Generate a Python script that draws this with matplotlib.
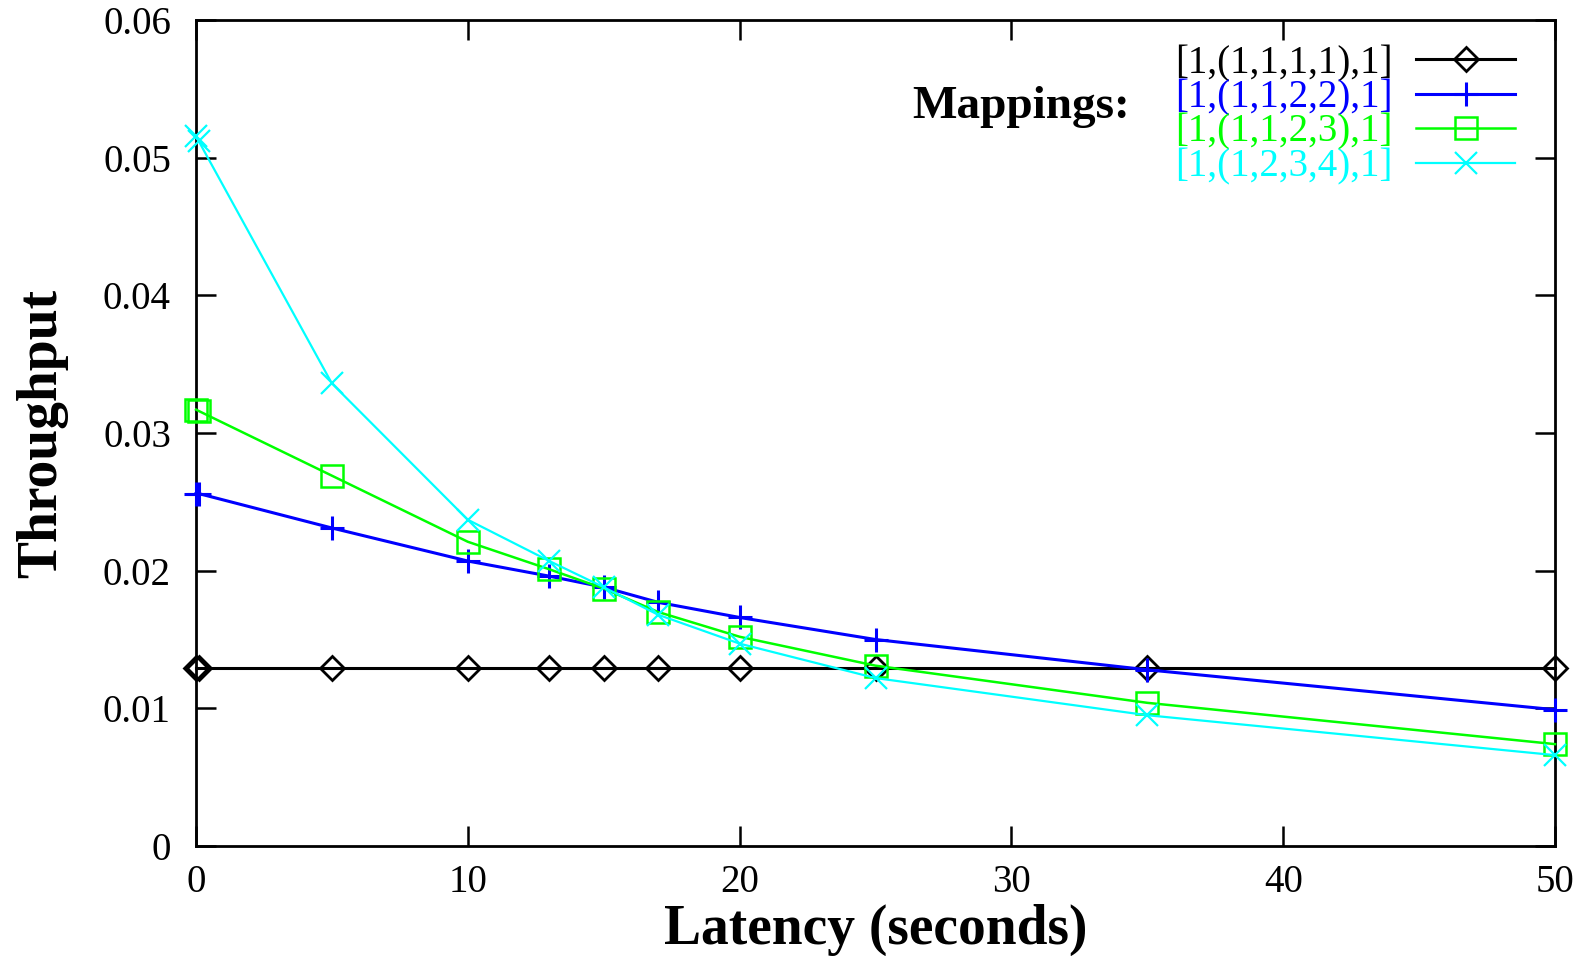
import matplotlib
matplotlib.use("Agg")
import matplotlib.pyplot as plt

# ---- data ----
latency = [0, 0.1, 5, 10, 13, 15, 17, 20, 25, 35, 50]
map_1111 = [0.0129, 0.0129, 0.0129, 0.0129, 0.0129, 0.0129, 0.0129, 0.0129, 0.0129, 0.0129, 0.0129]
map_1122 = [0.0256, 0.0256, 0.0231, 0.0207, 0.0196, 0.0188, 0.0177, 0.0166, 0.0150, 0.0128, 0.00990]
map_1123 = [0.0317, 0.0316, 0.0269, 0.0221, 0.0201, 0.0187, 0.0170, 0.0152, 0.0131, 0.0104, 0.0074]
map_1234 = [0.0516, 0.0512, 0.0336, 0.0237, 0.0207, 0.0188, 0.0168, 0.0147, 0.0122, 0.0095, 0.0066]
series_labels = ["[1,(1,1,1,1),1]", "[1,(1,1,2,2),1]", "[1,(1,1,2,3),1]", "[1,(1,2,3,4),1]"]
x_ticks = [0, 10, 20, 30, 40, 50]
x_tick_labels = ["0", "10", "20", "30", "40", "50"]
y_ticks = [0, 0.01, 0.02, 0.03, 0.04, 0.05, 0.06]
y_tick_labels = ["0", "0.01", "0.02", "0.03", "0.04", "0.05", "0.06"]

plt.rcParams['font.family'] = ['Liberation Serif', 'DejaVu Serif']

W, H = 1592, 956
fig = plt.figure(figsize=(W / 100, H / 100), dpi=100)
ax = fig.add_axes([196 / W, 1 - 846 / H, (1555 - 196) / W, (846 - 20) / H])

ax.plot(latency, map_1111, color='black', lw=2.2, marker='D', ms=12, mfc='none',
        mec='black', mew=2.0, label=series_labels[0], zorder=3, clip_on=False)
ax.plot(latency, map_1122, color='#0000ff', lw=2.2, marker='+', ms=17, mew=2.2,
        label=series_labels[1], zorder=4, clip_on=False)
ax.plot(latency, map_1123, color='#00ff00', lw=1.8, marker='s', ms=16, mfc='none',
        mec='#00ff00', mew=1.8, label=series_labels[2], zorder=5, clip_on=False)
ax.plot(latency, map_1234, color='#00ffff', lw=1.6, marker='x', ms=16, mew=1.6,
        label=series_labels[3], zorder=6, clip_on=False)

ax.set_xlim(0, 50)
ax.set_ylim(0, 0.06)
ax.set_xticks(x_ticks)
ax.set_xticklabels(x_tick_labels)
ax.set_yticks(y_ticks)
ax.set_yticklabels(y_tick_labels)
ax.minorticks_off()
ax.tick_params(axis='both', direction='in', length=14.4, width=1.8,
               top=True, right=True, labelsize=28)
ax.tick_params(axis='x', pad=13)
ax.tick_params(axis='y', pad=18)
for sp in ax.spines.values():
    sp.set_linewidth(2.0)
    sp.set_zorder(2)

ax.set_xlabel("Latency (seconds)", fontsize=40, fontweight='bold', labelpad=0)
ax.set_ylabel("Throughput", fontsize=40, fontweight='bold')
ax.xaxis.set_label_coords(0.5, -(930 - 846) / (846 - 20))
ax.yaxis.set_label_coords(-(196 - 42) / (1555 - 196), 0.5)
ax.xaxis.label.set_va('center')
ax.yaxis.label.set_va('center')

leg = ax.legend(loc='upper right', bbox_to_anchor=(1515 / W, 1 - 45 / H),
                bbox_transform=fig.transFigure, frameon=False, fontsize=28,
                markerfirst=False, labelcolor='linecolor', numpoints=1,
                handlelength=2.54, handletextpad=0.6, labelspacing=-0.07,
                borderpad=0, borderaxespad=0)

fig.text(1130 / W, 1 - 107 / H, "Mappings:", fontsize=34, fontweight='bold',
         ha='right', va='center')

fig.savefig("out.png", dpi=100)
